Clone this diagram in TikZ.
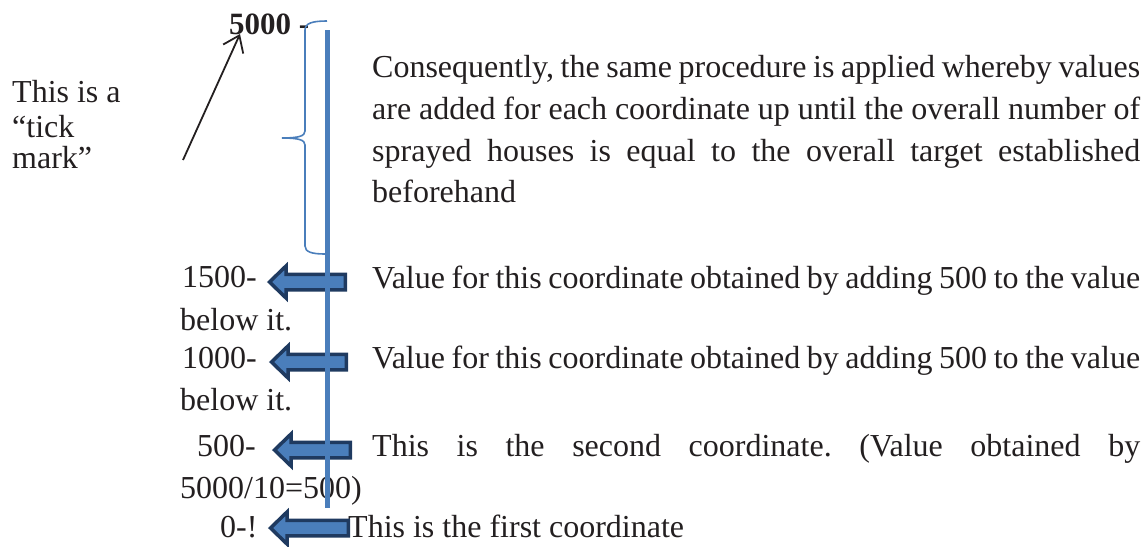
\documentclass[tikz,border=0pt]{standalone}
\usepackage{fontspec}
\setmainfont{Liberation Serif}
\usetikzlibrary{arrows.meta}
\definecolor{inkblack}{RGB}{35,31,32}
\definecolor{axisblue}{RGB}{74,126,187}
\definecolor{arrowedge}{RGB}{31,58,96}
\frenchspacing
\tikzset{
  txt/.style={anchor=base west, inner sep=0pt, text=inkblack,
    font=\fontsize{32}{42}\selectfont},
  boldtxt/.style={txt, font=\fontsize{31}{40}\selectfont\bfseries},
  blockarrow/.style={draw=arrowedge, fill=axisblue, line width=3.5pt, line join=miter},
  axisline/.style={draw=axisblue, line width=5pt},
  bracestyle/.style={draw=axisblue, line width=1.6pt},
  pointer/.style={draw=inkblack, line width=1.8pt, -{Straight Barb[length=15pt,width=22pt,line width=1.8pt]}}
}
% left-pointing block arrow: tip x, centre y, right end x
\newcommand\leftblockarrow[3]{%
  \path[blockarrow] (#1+2.5,#2) -- (#1+19,#2-16) -- (#1+19,#2-7.75)
    -- (#3-1.75,#2-7.75) -- (#3-1.75,#2+7.75) -- (#1+19,#2+7.75)
    -- (#1+19,#2+16) -- cycle;}
\newcommand\justline[1]{\makebox[768pt][s]{#1}}
\begin{document}
\begin{tikzpicture}[x=1pt,y=-1pt]
\useasboundingbox (0,0) rectangle (1145,546);

% top value of the axis
\node[boldtxt] (top) at (229,34) {5000 -};

% note on the tick mark
\node[txt] (note1) at (12,102) {This is a};
\node[txt] (note2) at (12,137) {``tick};
\node[txt] (note3) at (12,168) {mark''};
\coordinate (ptail) at (183,160);
\coordinate (ptip) at (240,34);
\draw[pointer] (ptail) -- (ptip);

% explanation beside the brace
\node[txt] (p1) at (372,77)  {\justline{Consequently, the same procedure is applied whereby values}};
\node[txt] (p2) at (372,119) {\justline{are added for each coordinate up until the overall number of}};
\node[txt] (p3) at (372,161) {\justline{sprayed houses is equal to the overall target established}};
\node[txt] (p4) at (372,202) {beforehand};

% tick labels and their notes
\node[txt] (l1500) at (182,287) {1500-};
\node[txt] (v1500) at (372,288) {\justline{Value for this coordinate obtained by adding 500 to the value}};
\node[txt] (b1500) at (180,330) {below it.};

\node[txt] (l1000) at (182,368) {1000-};
\node[txt] (v1000) at (372,368) {\justline{Value for this coordinate obtained by adding 500 to the value}};
\node[txt] (b1000) at (180,410) {below it.};

\node[txt] (l500) at (197,456) {500-};
\node[txt] (v500) at (372,456) {\justline{This is the second coordinate. (Value obtained by}};
\node[txt] (b500) at (180,498) {5000/10=500)};

\node[txt] (l0) at (220,537) {0-!};
\node[txt] (v0) at (348,537) {This is the first coordinate};

% block arrows at the coordinates
\leftblockarrow{267}{282}{347}
\leftblockarrow{269}{362}{348}
\leftblockarrow{272}{450}{352}
\leftblockarrow{268}{528}{350}

% the axis
\coordinate (axtop) at (327,30);
\coordinate (axbot) at (327,508);
\draw[axisline] (axtop) -- (axbot);

% brace spanning the upper part of the axis
\draw[bracestyle] (327,21) .. controls (313,21) and (305,23) .. (305,30)
  -- (305,131) .. controls (305,136) and (299,138) .. (282,138)
  .. controls (299,138) and (305,140) .. (305,145)
  -- (305,246) .. controls (305,252) and (312,254) .. (325,254);
\end{tikzpicture}
\end{document}
